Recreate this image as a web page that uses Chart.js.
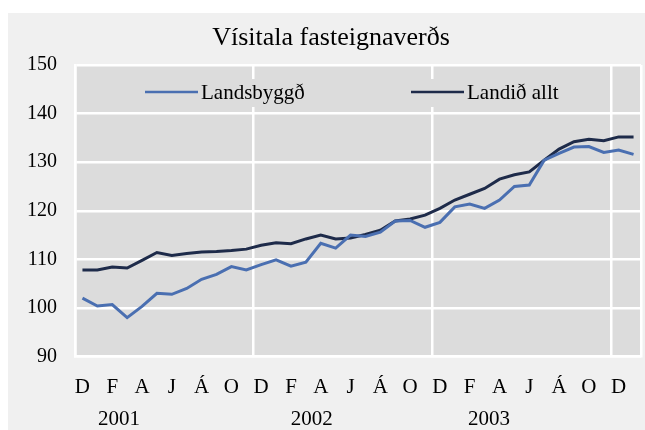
<!DOCTYPE html>
<html>
<head>
<meta charset="utf-8">
<script src="https://cdn.jsdelivr.net/npm/chart.js@4.4.1/dist/chart.umd.min.js"></script>
<style>
  html, body { margin: 0; padding: 0; background: #ffffff; }
  #wrap { position: absolute; left: 0; top: 0; width: 645px; height: 430px; }
</style>
</head>
<body>
<div id="wrap"><canvas id="c" width="645" height="430"></canvas></div>
<script>
// ---- Data ----
const titleText = 'Vísitala fasteignaverðs';
// Monthly categories Dec 2000 .. Jan 2004 (Icelandic month initials)
const categories = [
  'D',
  'J','F','M','A','M','J','J','Á','S','O','N','D',
  'J','F','M','A','M','J','J','Á','S','O','N','D',
  'J','F','M','A','M','J','J','Á','S','O','N','D',
  'J'
];
const yearLabels = ['2001', '2002', '2003'];
const seriesNames = ['Landsbyggð', 'Landið allt'];
const landsbyggd = [
  102.0, 100.4, 100.7, 98.0, 100.3, 103.0, 102.8, 104.0, 105.9, 106.9, 108.5, 107.8, 108.9,
  109.9, 108.6, 109.4, 113.3, 112.3, 115.0, 114.7, 115.6, 117.9, 118.0, 116.6, 117.6,
  120.8, 121.4, 120.5, 122.2, 125.0, 125.3, 130.4, 131.8, 133.1, 133.2, 132.0, 132.5,
  131.6
];
const landidAllt = [
  107.8, 107.8, 108.4, 108.2, 109.8, 111.4, 110.8, 111.2, 111.5, 111.6, 111.8, 112.1, 112.9,
  113.4, 113.2, 114.2, 115.0, 114.2, 114.4, 115.1, 116.0, 117.9, 118.3, 119.1, 120.5,
  122.2, 123.4, 124.6, 126.5, 127.4, 128.0, 130.4, 132.7, 134.2, 134.7, 134.4, 135.2,
  135.2
];
const yTicks = [90, 100, 110, 120, 130, 140, 150];

// ---- Styling constants ----
const FONT = '"Liberation Serif", "Times New Roman", serif';
const COLORS = ['#4a6fb1', '#1e2b4a'];
const OUTER_BG = '#f0f0f0';
const PLOT_BG = '#dcdcdc';
const YEAR_ANCHORS = [2.45, 15.4, 27.3]; // category-scale positions for year captions
const LEGEND_ITEMS_X = [145, 411];

const decorPlugin = {
  id: 'decor',
  beforeDraw(chart) {
    const ctx = chart.ctx;
    const a = chart.chartArea;
    ctx.save();
    ctx.fillStyle = '#ffffff';
    ctx.fillRect(0, 0, chart.width, chart.height);
    ctx.fillStyle = OUTER_BG;
    ctx.fillRect(8, 13, chart.width - 8, chart.height - 13);
    ctx.fillStyle = PLOT_BG;
    ctx.fillRect(a.left, a.top, a.right - a.left, a.bottom - a.top);
    ctx.restore();
  },
  beforeDatasetsDraw(chart) {
    const ctx = chart.ctx;
    const a = chart.chartArea;
    ctx.save();
    // legend box (same colour as plot, hides gridlines beneath)
    ctx.fillStyle = PLOT_BG;
    ctx.fillRect(120, a.top + 14, 470, 28);
    const ly = a.top + 27;
    ctx.font = '21px ' + FONT;
    ctx.textBaseline = 'middle';
    ctx.textAlign = 'left';
    chart.data.datasets.forEach((ds, i) => {
      const x0 = LEGEND_ITEMS_X[i];
      ctx.strokeStyle = ds.borderColor;
      ctx.lineWidth = 2.5;
      ctx.beginPath();
      ctx.moveTo(x0, ly);
      ctx.lineTo(x0 + 53, ly);
      ctx.stroke();
      ctx.fillStyle = '#000000';
      ctx.fillText(ds.label, x0 + 56, ly + 1);
    });
    ctx.restore();
  },
  afterDraw(chart) {
    const ctx = chart.ctx;
    const xs = chart.scales.x;
    ctx.save();
    ctx.fillStyle = '#000000';
    ctx.textAlign = 'center';
    ctx.textBaseline = 'middle';
    ctx.font = '26px ' + FONT;
    ctx.fillText(titleText, 331, 38);
    ctx.font = '21px ' + FONT;
    yearLabels.forEach((t, i) => {
      ctx.fillText(t, xs.getPixelForValue(YEAR_ANCHORS[i]), 419);
    });
    ctx.restore();
  }
};

new Chart(document.getElementById('c'), {
  type: 'line',
  data: {
    labels: categories,
    datasets: [
      { label: seriesNames[0], data: landsbyggd, borderColor: COLORS[0], backgroundColor: COLORS[0],
        borderWidth: 3, pointRadius: 0, tension: 0, fill: false },
      { label: seriesNames[1], data: landidAllt, borderColor: COLORS[1], backgroundColor: COLORS[1],
        borderWidth: 3, pointRadius: 0, tension: 0, fill: false }
    ]
  },
  options: {
    responsive: false,
    animation: false,
    devicePixelRatio: 1,
    layout: { padding: { top: 65, right: 4, left: 0, bottom: 0 } },
    plugins: { legend: { display: false }, title: { display: false }, tooltip: { enabled: false } },
    scales: {
      x: {
        type: 'category',
        offset: true,
        grid: {
          offset: true,
          drawTicks: false,
          lineWidth: 2.5,
          color: (ctx) => (ctx.index === undefined || ctx.index % 12 === 0) ? '#ffffff' : 'rgba(0,0,0,0)'
        },
        border: { display: true, color: '#ffffff', width: 2.5 },
        ticks: {
          autoSkip: false,
          maxRotation: 0,
          minRotation: 0,
          padding: 18,
          color: '#000000',
          font: { family: FONT, size: 21 },
          callback: function (val, idx) { return idx % 2 === 0 ? categories[idx] : ''; }
        },
        afterFit(scale) { scale.height = 73.5; scale.paddingLeft = 0; scale.paddingRight = 0; }
      },
      y: {
        min: 90,
        max: 150,
        afterBuildTicks(scale) { scale.ticks = yTicks.map(v => ({ value: v })); },
        grid: { drawTicks: false, color: '#ffffff', lineWidth: 2.5 },
        border: { display: true, color: '#ffffff', width: 2.5 },
        ticks: {
          padding: 18,
          color: '#000000',
          font: { family: FONT, size: 20 }
        },
        afterFit(scale) { scale.width = 75; }
      }
    }
  },
  plugins: [decorPlugin]
});
</script>
</body>
</html>
